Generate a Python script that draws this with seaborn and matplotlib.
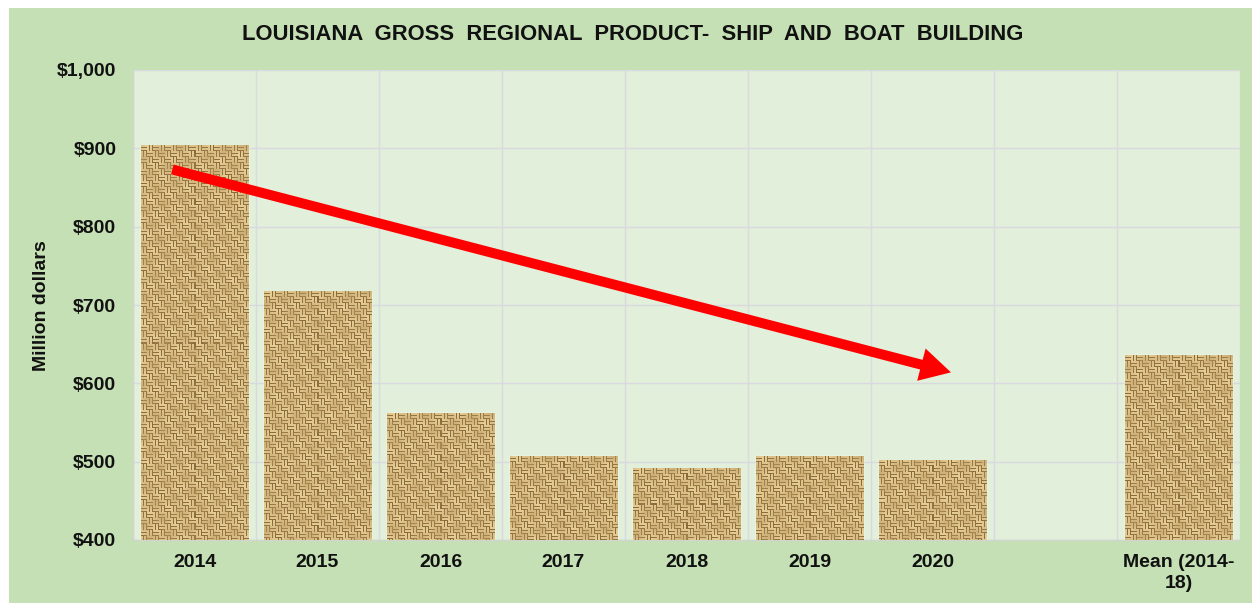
import numpy as np
import pandas as pd
import matplotlib
matplotlib.use("Agg")
import matplotlib.pyplot as plt
from matplotlib.patches import Rectangle
import seaborn as sns

# ---- data ----
categories = ["2014", "2015", "2016", "2017", "2018", "2019", "2020", " ", "Mean (2014-\n18)"]
values = [903, 717, 562, 507, 491, 507, 501, np.nan, 636]
y_ticks = [400, 500, 600, 700, 800, 900, 1000]
y_tick_labels = ["$400", "$500", "$600", "$700", "$800", "$900", "$1,000"]
title = "LOUISIANA  GROSS  REGIONAL  PRODUCT-  SHIP  AND  BOAT  BUILDING"
ylabel = "Million dollars"

df = pd.DataFrame({"category": categories, "value": values})

sns.set_theme(style="white")
plt.rcParams["font.family"] = ["Liberation Sans", "DejaVu Sans"]

W, H = 1252, 603
fig = plt.figure(figsize=(W / 100, H / 100), dpi=100)
fig.patch.set_facecolor("white")
# green outer chart area
fig.patches.append(Rectangle((9 / W, 0), 1 - 9 / W, (H - 8) / H,
                             transform=fig.transFigure, facecolor="#c5e0b4",
                             edgecolor="none", zorder=-10))

ax = fig.add_axes([133 / W, (H - 540) / H, (1240 - 133) / W, (540 - 70) / H])
ax.set_zorder(1)
ax.set_facecolor("#e2efda")

sns.barplot(data=df, x="category", y="value", order=categories, ax=ax,
            color="#c0a06a", width=0.87, saturation=1, zorder=2)

ax.set_ylim(400, 1000)
ax.set_xlim(-0.5, len(categories) - 0.5)

# burlap-like woven texture drawn over each bar (deterministic pattern)
def weave(h, w):
    yy, xx = np.mgrid[0:h, 0:w]
    cell = 6
    horiz = ((xx // cell) + (yy // cell)) % 2 == 0
    stripe_h = (yy % 3) == 2
    stripe_v = (xx % 3) == 2
    dark = np.where(horiz, stripe_h, stripe_v)
    light = np.array([0.93, 0.84, 0.62])
    darkc = np.array([0.50, 0.38, 0.20])
    mid = np.array([0.74, 0.61, 0.38])
    img = np.where(dark[..., None], darkc, light)
    mix = 0.6 + 0.25 * np.sin(xx / 5.0 + yy / 9.0) * np.cos(yy / 4.0 - xx / 11.0)
    img = img * mix[..., None] + mid * (1 - mix[..., None])
    return np.clip(img, 0, 1)

fig.canvas.draw()
px_per_x = ax.bbox.width / (ax.get_xlim()[1] - ax.get_xlim()[0])
px_per_y = ax.bbox.height / (ax.get_ylim()[1] - ax.get_ylim()[0])
for p in list(ax.patches):
    h = p.get_height()
    if not np.isfinite(h) or h <= 0:
        continue
    x0 = p.get_x(); w = p.get_width(); y0 = p.get_y()
    y_bot = max(y0, 400)
    pw = max(int(round(w * px_per_x)), 1)
    ph = max(int(round((y0 + h - y_bot) * px_per_y)), 1)
    ax.imshow(weave(ph, pw), extent=(x0, x0 + w, y_bot, y0 + h),
              aspect="auto", interpolation="nearest", zorder=3)
ax.set_xlim(-0.5, len(categories) - 0.5)
ax.set_ylim(400, 1000)

# grid
grid_c = "#d8dadf"
ax.set_yticks(y_ticks)
ax.set_yticklabels(y_tick_labels, fontsize=14, fontweight="bold", color="#111111")
ax.set_xticks(range(len(categories)))
ax.set_xticklabels(categories, fontsize=14, fontweight="bold", color="#111111",
                   linespacing=1.3)
ax.yaxis.grid(True, color=grid_c, lw=1, zorder=0)
ax.set_xticks(np.arange(len(categories) + 1) - 0.5, minor=True)
ax.xaxis.grid(True, which="minor", color=grid_c, lw=1, zorder=0)
ax.xaxis.grid(False, which="major")
ax.set_axisbelow(True)
ax.tick_params(axis="both", which="both", length=0)
ax.tick_params(axis="y", pad=12)
ax.tick_params(axis="x", pad=10)

for s in ["top", "right"]:
    ax.spines[s].set_visible(False)
for s in ["left", "bottom"]:
    ax.spines[s].set_color("#d0d6cf")
    ax.spines[s].set_linewidth(1)

ax.set_xlabel("")
ax.set_ylabel("")
fig.text(42 / W, 1 - 306 / H, ylabel, rotation=90, ha="center", va="center",
         fontsize=14, fontweight="bold", color="#111111")

fig.text(633 / W, 1 - 35 / H, title, ha="center", va="center",
         fontsize=15.8, fontweight="bold", color="#111111")

# red trend arrow
ax.annotate("", xy=(6.15, 614), xytext=(-0.18, 873),
            arrowprops=dict(arrowstyle="simple,head_length=1.1,head_width=1.2,tail_width=0.36",
                            color="#ff0000", lw=0, mutation_scale=20,
                            shrinkA=0, shrinkB=0),
            zorder=5)

fig.savefig("out.png", dpi=100, facecolor=fig.get_facecolor())
